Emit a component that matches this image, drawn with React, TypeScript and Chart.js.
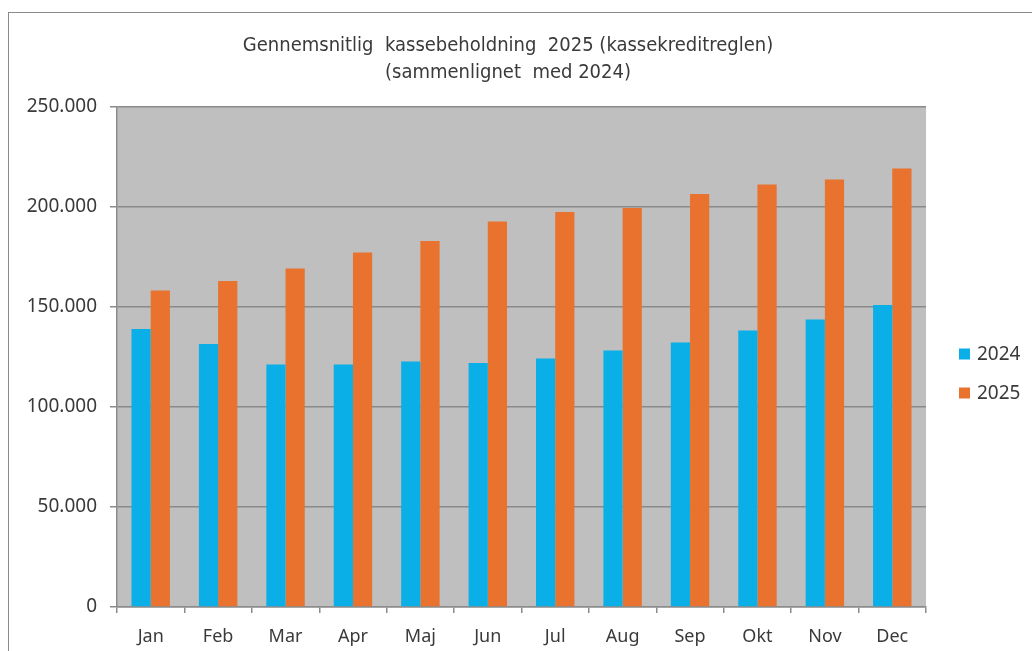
import React, { useEffect, useRef } from "react";
import { Chart, registerables } from "chart.js";

Chart.register(...registerables);

const months = ["Jan", "Feb", "Mar", "Apr", "Maj", "Jun", "Jul", "Aug", "Sep", "Okt", "Nov", "Dec"];
const values2024 = [139000, 131500, 121200, 121200, 122700, 122000, 124300, 128300, 132300, 138200, 143700, 151000];
const values2025 = [158200, 163000, 169300, 177300, 183000, 192800, 197500, 199500, 206500, 211200, 213700, 219300];
const seriesNames = ["2024", "2025"];
const titleLines = ["Gennemsnitlig  kassebeholdning  2025 (kassekreditreglen)", "(sammenlignet  med 2024)"];
const yTicks = [0, 50000, 100000, 150000, 200000, 250000];

const BLUE = "#0AAFE8";
const ORANGE = "#E8722E";
const PLOT_BG = "#BFBFBF";
const TEXT = "#3a3a3a";
const FONT = "'Noto Sans', 'DejaVu Sans', sans-serif";
const TITLE_FONT = "'Liberation Sans Narrow', 'DejaVu Sans Condensed', 'Roboto', sans-serif";

function fmt(v: number): string {
  return String(Math.round(v)).replace(/\B(?=(\d{3})+(?!\d))/g, ".");
}

const plotBg = {
  id: "plotBg",
  beforeDraw(chart: any) {
    const { ctx, chartArea } = chart;
    ctx.save();
    ctx.fillStyle = PLOT_BG;
    ctx.fillRect(chartArea.left, chartArea.top, chartArea.right - chartArea.left, chartArea.bottom - chartArea.top);
    ctx.restore();
  },
};

const customLegend = {
  id: "customLegend",
  afterDraw(chart: any) {
    const { ctx } = chart;
    ctx.save();
    const items = chart.data.datasets;
    const startY = 354;
    const gap = 39;
    items.forEach((ds: any, i: number) => {
      const cy = startY + i * gap;
      ctx.fillStyle = ds.backgroundColor;
      ctx.fillRect(959, cy - 5.5, 11, 11);
      ctx.fillStyle = TEXT;
      ctx.font = `19px ${FONT}`;
      ctx.textAlign = "left";
      ctx.textBaseline = "middle";
      ctx.fillText(ds.label, 977, cy + 1);
    });
    ctx.restore();
  },
};

export default function App() {
  const ref = useRef<HTMLCanvasElement | null>(null);
  useEffect(() => {
    if (!ref.current) return;
    const chart = new Chart(ref.current, {
      type: "bar",
      data: {
        labels: months,
        datasets: [
          { label: seriesNames[0], data: values2024, backgroundColor: BLUE, categoryPercentage: 0.57, barPercentage: 1 },
          { label: seriesNames[1], data: values2025, backgroundColor: ORANGE, categoryPercentage: 0.57, barPercentage: 1 },
        ],
      },
      options: {
        responsive: false,
        animation: false,
        layout: { padding: { left: 0, right: 16, top: 0, bottom: 0 } },
        plugins: {
          legend: { display: false },
          tooltip: { enabled: false },
          title: {
            display: true,
            text: titleLines,
            color: TEXT,
            font: { family: TITLE_FONT, size: 20, weight: "normal", lineHeight: 1.35 },
            padding: { top: 32.5, bottom: 20.5 },
          },
        },
        scales: {
          x: {
            grid: { offset: true, drawOnChartArea: false, drawTicks: true, tickLength: 6, color: "#8c8c8c", lineWidth: 1.5 },
            border: { display: true, color: "#8c8c8c", width: 1.5 },
            ticks: { color: TEXT, font: { family: FONT, size: 18 }, padding: 13 },
            afterFit(scale: any) {
              scale.height = 44;
            },
          },
          y: {
            min: 0,
            max: 250000,
            afterBuildTicks(scale: any) {
              scale.ticks = yTicks.map((v) => ({ value: v }));
            },
            grid: { color: "#8a8a8a", lineWidth: 1.5, tickLength: 7 },
            border: { display: true, color: "#8c8c8c", width: 1.5 },
            ticks: {
              color: TEXT,
              font: { family: FONT, size: 19 },
              padding: 13,
              callback: (v: any) => fmt(Number(v)),
            },
            afterFit(scale: any) {
              scale.width = 117;
            },
          },
          yRight: {
            position: "right",
            display: true,
            min: 0,
            max: 250000,
            grid: { display: false, drawOnChartArea: false },
            border: { display: false },
            ticks: { display: false },
            afterFit(scale: any) {
              scale.width = 90;
            },
          },
        },
      } as any,
      plugins: [plotBg, customLegend],
    });
    return () => chart.destroy();
  }, []);

  return (
    <div style={{ position: "fixed", left: 0, top: 0, width: 1032, height: 651, background: "#fff", overflow: "hidden" }}>
      <div
        style={{
          position: "absolute",
          left: 8,
          top: 12,
          width: 1200,
          height: 800,
          borderTop: "1.5px solid #8a8a8a",
          borderLeft: "1.5px solid #8a8a8a",
        }}
      />
      <canvas ref={ref} width={1032} height={651} style={{ position: "absolute", left: 0, top: 0 }} />
    </div>
  );
}
